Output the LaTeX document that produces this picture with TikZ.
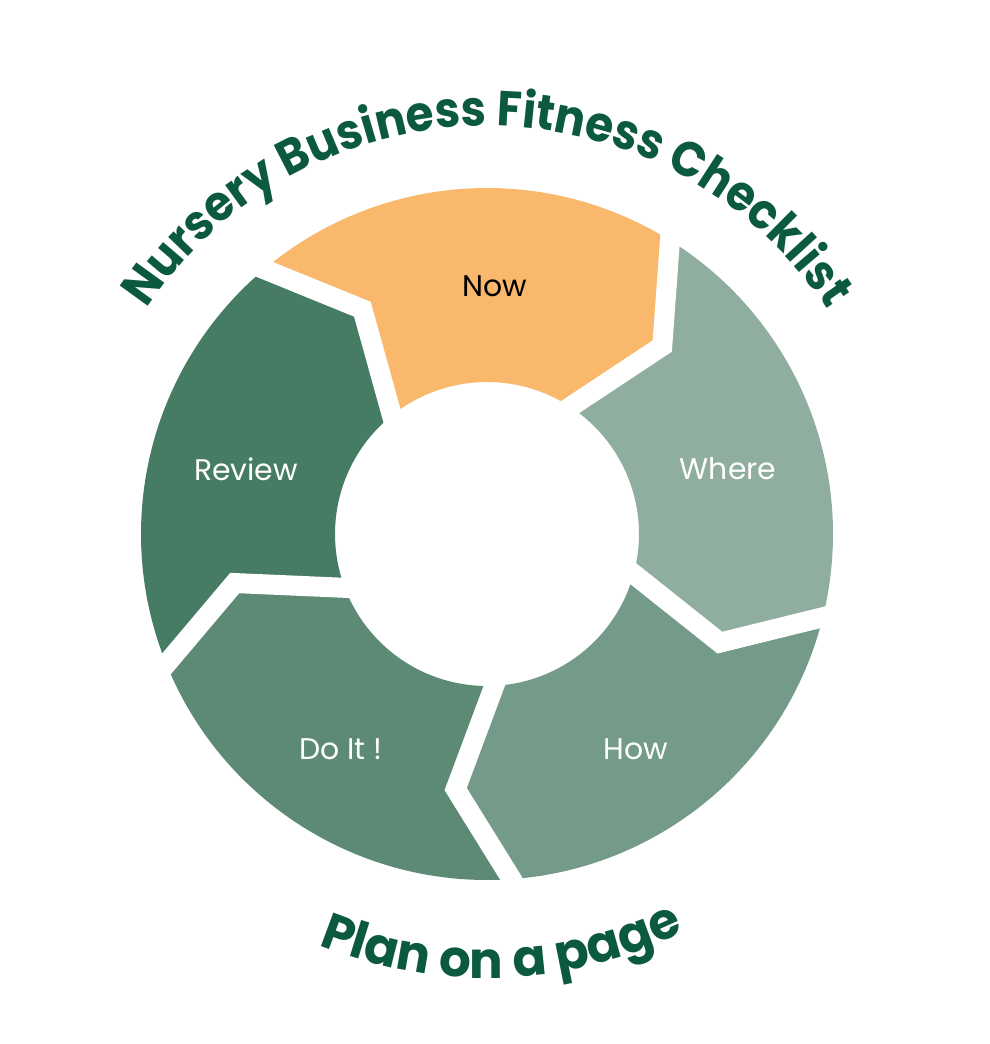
\documentclass[tikz,border=0pt]{standalone}
\usepackage{fontspec}
\setmainfont{Poppins}
\newfontfamily\titlefont[FakeStretch=0.92]{Poppins}
\newfontfamily\subtitlefont[FakeStretch=0.98]{Poppins}
\usepackage{tikz}
\usetikzlibrary{calc, decorations.text}

\definecolor{nowcol}{HTML}{F9B86B}
\definecolor{wherecol}{HTML}{90AE9F}
\definecolor{howcol}{HTML}{749B89}
\definecolor{doitcol}{HTML}{5D8A74}
\definecolor{reviewcol}{HTML}{467B64}
\definecolor{titlecol}{HTML}{0C5A3D}

\tikzset{
	gap/.style={white, line width=2mm, line join=miter},
	lab/.style={font=\fontsize{8.5}{10}\selectfont, text=white}
}

\begin{document}
\begin{tikzpicture}
		\def\ro{3.46} % outer radius
		\def\ri{1.52} % inner radius
		\def\rn{2.57} % radius of the notch
		\useasboundingbox (-4.87,-5.10) rectangle (5.03,5.34);
		\coordinate (M) at (0,0); % centre of the ring
		
		% outer point, notch and inner point of each cut
		\coordinate (O1) at (59.5:\ro);   \coordinate (N1) at (47:\rn);   \coordinate (I1) at (59.5:\ri);
		\coordinate (O2) at (-12.5:\ro);  \coordinate (N2) at (-25:\rn);  \coordinate (I2) at (-12.5:\ri);
		\coordinate (O3) at (-84.5:\ro);  \coordinate (N3) at (-97:\rn);  \coordinate (I3) at (-84.5:\ri);
		\coordinate (O4) at (-156.5:\ro); \coordinate (N4) at (-169:\rn); \coordinate (I4) at (-156.5:\ri);
		\coordinate (O5) at (131.5:\ro);  \coordinate (N5) at (119:\rn);  \coordinate (I5) at (131.5:\ri);
		
		\fill[nowcol] (O5) arc [start angle=131.5, end angle=59.5, radius=\ro] -- (N1) -- (I1)
			arc [start angle=59.5, end angle=131.5, radius=\ri] -- (N5) -- cycle;
		\fill[wherecol] (O1) arc [start angle=59.5, end angle=-12.5, radius=\ro] -- (N2) -- (I2)
			arc [start angle=-12.5, end angle=59.5, radius=\ri] -- (N1) -- cycle;
		\fill[howcol] (O2) arc [start angle=-12.5, end angle=-84.5, radius=\ro] -- (N3) -- (I3)
			arc [start angle=-84.5, end angle=-12.5, radius=\ri] -- (N2) -- cycle;
		\fill[doitcol] (O3) arc [start angle=-84.5, end angle=-156.5, radius=\ro] -- (N4) -- (I4)
			arc [start angle=-156.5, end angle=-84.5, radius=\ri] -- (N3) -- cycle;
		\fill[reviewcol] (O4) arc [start angle=-156.5, end angle=-228.5, radius=\ro] -- (N5) -- (I5)
			arc [start angle=-228.5, end angle=-156.5, radius=\ri] -- (N4) -- cycle;
		
		% white cuts
		\draw[gap] ($(M)!1.05!(O1)$) -- (N1) -- ($(M)!0.9!(I1)$);
		\draw[gap] ($(M)!1.05!(O2)$) -- (N2) -- ($(M)!0.9!(I2)$);
		\draw[gap] ($(M)!1.05!(O3)$) -- (N3) -- ($(M)!0.9!(I3)$);
		\draw[gap] ($(M)!1.05!(O4)$) -- (N4) -- ($(M)!0.9!(I4)$);
		\draw[gap] ($(M)!1.05!(O5)$) -- (N5) -- ($(M)!0.9!(I5)$);
		
		\node[lab, text=black] (now) at (0.08,2.48) {Now};
		\node[lab] (where) at (2.41,0.65) {Where};
		\node[lab] (how) at (1.49,-2.15) {How};
		\node[lab] (doit) at (-1.46,-2.15) {Do It !};
		\node[lab] (review) at (-2.41,0.65) {Review};
		
		% titles along the ring
		\path[decorate, decoration={text along path, text align=center, text color=titlecol,
			text={|\titlefont\bfseries\fontsize{14}{14}\selectfont|Nursery Business Fitness Checklist}}]
			(170:4.08) arc [start angle=170, end angle=10, radius=4.08];
		\path[decorate, decoration={text along path, text align=center, text color=titlecol,
			text={|\subtitlefont\bfseries\fontsize{14.5}{14.5}\selectfont|Plan on a page}}]
			(-133:4.44) arc [start angle=-133, end angle=-43, radius=4.44];
	\end{tikzpicture}
\end{document}
